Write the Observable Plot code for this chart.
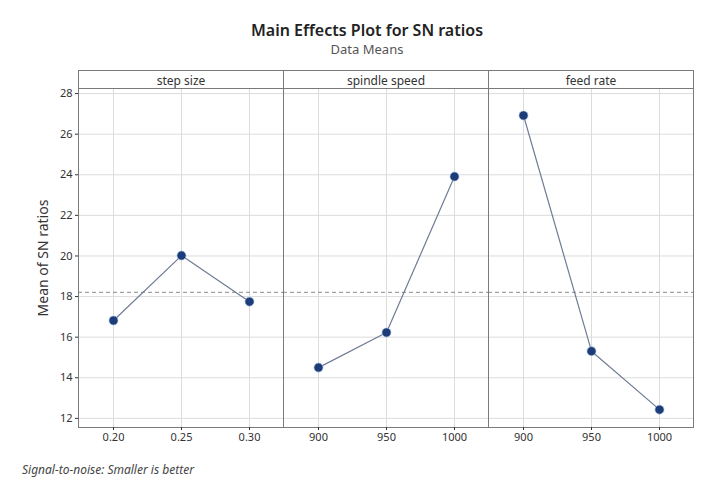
<!DOCTYPE html>
<html>
<head>
<meta charset="utf-8">
<script src="https://cdn.jsdelivr.net/npm/d3@7"></script>
<script src="https://cdn.jsdelivr.net/npm/@observablehq/plot@0.6"></script>
<style>
  body { margin: 0; background: #fff; font-family: "Segoe UI", "Noto Sans", "Open Sans", sans-serif; }
  #wrap { position: relative; width: 717px; height: 482px; }
  #title { position: absolute; left: 0; width: 734px; top: 19px; text-align: center; font-size: 16px; font-weight: 600; color: #222; }
  #subtitle { position: absolute; left: 0; width: 734px; top: 40px; text-align: center; font-size: 13px; color: #555; }
  #chart { position: absolute; left: 0; top: 60px; }
  #caption { position: absolute; left: 22px; top: 461px; font-size: 12px; font-style: italic; color: #444; }
</style>
</head>
<body>
<div id="wrap">
  <div id="title">Main Effects Plot for SN ratios</div>
  <div id="subtitle">Data Means</div>
  <div id="chart"></div>
  <div id="caption">Signal-to-noise: Smaller is better</div>
</div>
<script>
const factors = ["step size", "spindle speed", "feed rate"];
const stepLevels = ["0.20", "0.25", "0.30"];
const stepMeans = [16.82, 20.02, 17.75];
const spindleLevels = ["900", "950", "1000"];
const spindleMeans = [14.50, 16.23, 23.91];
const feedLevels = ["900", "950", "1000"];
const feedMeans = [26.92, 15.31, 12.43];
const yTicks = [12, 14, 16, 18, 20, 22, 24, 26, 28];

const levelSets = [stepLevels, spindleLevels, feedLevels];
const meanSets = [stepMeans, spindleMeans, feedMeans];
const rows = [];
factors.forEach((f, fi) => {
  levelSets[fi].forEach((lv, i) => rows.push({factor: f, idx: i, level: lv, mean: meanSets[fi][i]}));
});
const overall = d3.mean(rows, d => d.mean);

const chart = Plot.plot({
  width: 717,
  height: 389,
  marginLeft: 78,
  marginRight: 24,
  marginTop: 28,
  marginBottom: 22,
  style: {fontFamily: '"Segoe UI", "Noto Sans", sans-serif', color: "#333", background: "transparent"},
  fx: {domain: factors, padding: 0, axis: null},
  x: {type: "point", domain: [0, 1, 2], padding: 0.5, axis: null},
  y: {domain: [11.55, 28.25], axis: null},
  marks: [
    Plot.gridY(yTicks, {stroke: "#dcdcdc", strokeOpacity: 1}),
    Plot.gridX([0, 1, 2], {stroke: "#dcdcdc", strokeOpacity: 1}),
    Plot.ruleY([overall], {stroke: "#8a8a8a", strokeDasharray: "4,3", strokeWidth: 1}),
    Plot.line(rows, {x: "idx", y: "mean", fx: "factor", stroke: "#6f7c96", strokeWidth: 1.2}),
    Plot.dot(rows, {x: "idx", y: "mean", fx: "factor", r: 4.5, fill: "#1d3c78", stroke: "#9fc0e8", strokeWidth: 0.6}),
    Plot.text(rows, {x: "idx", fx: "factor", text: "level", frameAnchor: "bottom", dy: 13, fontSize: 11, fill: "#333"}),
    Plot.frame({stroke: "#7a7a7a", strokeWidth: 1}),
    Plot.frame({stroke: "#7a7a7a", strokeWidth: 1, insetTop: -18}),
    Plot.axisFx({anchor: "top", label: null, tickSize: 0, tickPadding: 4, fontSize: 12}),
    Plot.axisY({ticks: yTicks, tickSize: 3, tickPadding: 3, label: null, fontSize: 11}),
    Plot.axisY({ticks: [], label: "Mean of SN ratios", labelAnchor: "center", labelOffset: 40, labelArrow: "none", fontSize: 14}),
    Plot.axisX({ticks: [0, 1, 2], tickSize: 3, tickFormat: () => "", label: null})
  ]
});
document.getElementById("chart").appendChild(chart);
</script>
</body>
</html>
